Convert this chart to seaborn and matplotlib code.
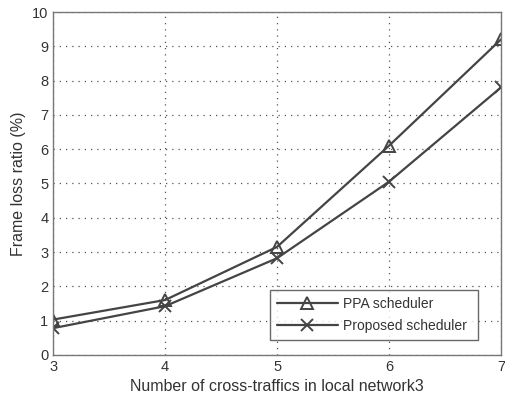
import matplotlib
matplotlib.use("Agg")
import matplotlib.pyplot as plt
import seaborn as sns

traffics = [3, 4, 5, 6, 7]
ppa = [1.03, 1.6, 3.15, 6.1, 9.2]
proposed = [0.78, 1.42, 2.82, 5.05, 7.8]
labels = ["PPA scheduler", "Proposed scheduler"]

sns.set_style("white")
plt.rcParams['font.family'] = ['Liberation Sans', 'DejaVu Sans']

fig = plt.figure(figsize=(5.06, 4.01), dpi=100)
ax = fig.add_axes([0.105, 0.115, 0.885, 0.855])

sns.lineplot(x=traffics, y=ppa, ax=ax, color="#444444", marker="^",
             linewidth=1.6, markersize=8, markeredgewidth=1.4,
             markerfacecolor="none", markeredgecolor="#444444", label=labels[0])
sns.lineplot(x=traffics, y=proposed, ax=ax, color="#444444", marker="x",
             linewidth=1.6, markersize=8, markeredgewidth=1.4,
             markeredgecolor="#444444", label=labels[1])

ax.set_xlim(3, 7)
ax.set_ylim(0, 10)
ax.set_xticks(traffics)
ax.set_yticks(range(0, 11))
ax.grid(True, linestyle=(0, (1, 4)), color="#555555", linewidth=0.9)
for s in ax.spines.values():
    s.set_color("#777777")
    s.set_linewidth(1.0)
ax.tick_params(axis="both", colors="#333333", labelsize=10.5, direction="in", length=4)
ax.set_xlabel("Number of cross-traffics in local network3", fontsize=11.5, color="#333333")
ax.set_ylabel("Frame loss ratio (%)", fontsize=11.5, color="#333333")

leg = ax.legend(loc="lower left", bbox_to_anchor=(0.484, 0.044, 0.464, 0.14),
                mode="expand", fontsize=10,
                frameon=True, fancybox=False, edgecolor="#444444", handlelength=4.4,
                handletextpad=0.4, borderpad=0.5, labelspacing=0.6, borderaxespad=0)
leg.get_frame().set_linewidth(1.0)
for t in leg.get_texts():
    t.set_color("#333333")

fig.savefig("out.png", dpi=100)
